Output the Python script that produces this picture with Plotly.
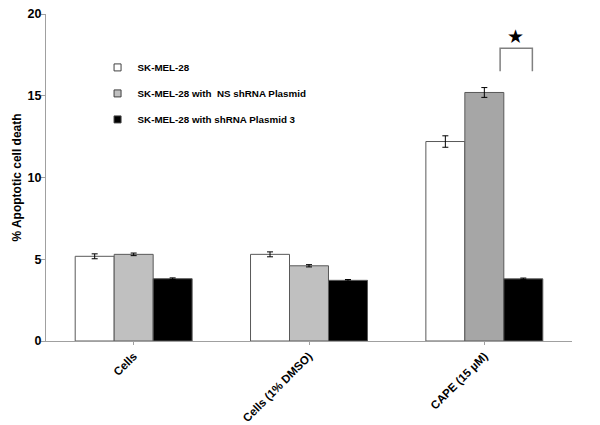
import plotly.graph_objects as go

categories = ["Cells", "Cells (1% DMSO)", "CAPE (15 µM)"]
series_names = ["SK-MEL-28", "SK-MEL-28 with  NS shRNA Plasmid", "SK-MEL-28 with shRNA Plasmid 3"]
values_wt = [5.18, 5.3, 12.2]
values_ns = [5.3, 4.6, 15.2]
values_sh = [3.81, 3.71, 3.8]
err_wt = [0.15, 0.15, 0.35]
err_ns = [0.08, 0.07, 0.3]
err_sh = [0.05, 0.05, 0.05]
y_ticks = [0, 5, 10, 15, 20]

fills = [["#ffffff"] * 3, ["#c0c0c0", "#c0c0c0", "#a6a6a6"], ["#000000"] * 3]
series = [values_wt, values_ns, values_sh]
errs = [err_wt, err_ns, err_sh]

fig = go.Figure()
for i in range(3):
    fig.add_trace(go.Bar(
        x=categories, y=series[i], name="<b>" + series_names[i] + "</b>",
        marker=dict(color=fills[i], line=dict(color="#595959", width=1)),
        error_y=dict(type="data", array=errs[i], color="#000000", thickness=1, width=3),
        legendgroup=str(i), showlegend=False,
    ))
# small square legend symbols, as in the reference
for i in range(3):
    fig.add_trace(go.Scatter(
        x=[None], y=[None], mode="markers", name="<b>" + series_names[i] + "</b>",
        marker=dict(symbol="square", size=7, color=fills[i][0],
                    line=dict(color="#404040", width=1)),
        legendgroup=str(i), showlegend=True,
    ))

# significance bracket
fig.add_shape(type="path", xref="x", yref="y",
              path="M 2.09,16.5 L 2.09,17.9 L 2.274,17.9 L 2.274,16.5",
              line=dict(color="#808080", width=1.5))
fig.add_annotation(x=2.175, y=18.65, xref="x", yref="y", text="★", showarrow=False,
                   font=dict(size=19, color="#000000", family="DejaVu Sans"))

fig.update_layout(
    width=600, height=425,
    margin=dict(l=38, r=36, t=6, b=92),
    paper_bgcolor="white", plot_bgcolor="white",
    barmode="group", bargap=0.333, bargroupgap=0,
    font=dict(family="Liberation Sans, Arial", color="#000000"),
    showlegend=True,
    legend=dict(x=0.098, y=0.881, xanchor="left", yanchor="top",
                font=dict(size=9.8, family="Liberation Sans, Arial"),
                tracegroupgap=7, itemwidth=30, bgcolor="rgba(0,0,0,0)"),
    xaxis=dict(showline=True, linecolor="#a0a0a0", linewidth=1, ticks="outside",
               ticklen=3, tickcolor="#a0a0a0", tickangle=-45, automargin=False,
               tickvals=categories, ticktext=["<b>" + c + "</b>" for c in categories],
               tickfont=dict(size=11.5, family="Liberation Sans, Arial"),
               ticklabeloverflow="allow", showgrid=False),
    yaxis=dict(range=[0, 20], tickvals=y_ticks, ticktext=["<b>%d</b>" % v for v in y_ticks],
               showline=True, linecolor="#a0a0a0", automargin=False,
               linewidth=1, ticks="outside", ticklen=4, tickcolor="#a0a0a0",
               ticklabelstandoff=-3, ticklabeloverflow="allow",
               tickfont=dict(size=12.5, family="Liberation Sans, Arial"),
               showgrid=False, zeroline=False,
               title=dict(text="<b>% Apoptotic cell death</b>", font=dict(size=12), standoff=3)),
)

fig.write_html("out.html")
